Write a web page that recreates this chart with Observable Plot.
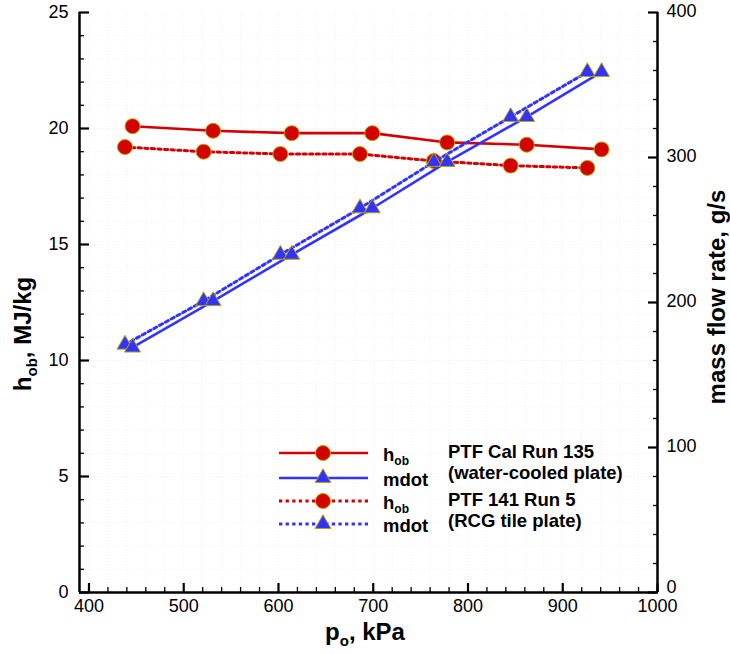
<!DOCTYPE html>
<html><head><meta charset="utf-8">
<script src="https://cdn.jsdelivr.net/npm/d3@7"></script>
<script src="https://cdn.jsdelivr.net/npm/@observablehq/plot@0.6"></script>
<style>body{margin:0;background:#fff}#chart svg{display:block}</style>
</head><body><div id="chart"></div>
<script>
// ---- data ----
const pressureCal = [446, 531, 614, 699, 778, 862, 941];      // kPa, PTF Cal Run 135
const enthalpyCal = [20.1, 19.9, 19.8, 19.8, 19.4, 19.3, 19.1]; // MJ/kg
const mdotCal     = [169, 201, 233, 265, 297, 328, 359];        // g/s
const pressureRcg = [438, 521, 602, 686, 764, 845, 926];      // kPa, PTF 141 Run 5
const enthalpyRcg = [19.2, 19.0, 18.9, 18.9, 18.6, 18.4, 18.3];
const mdotRcg     = [171, 201, 233, 265, 297, 328, 359];

const xMajorTicks = [400, 500, 600, 700, 800, 900, 1000];
const xMinorTicks = [420,440,460,480,520,540,560,580,620,640,660,680,720,740,760,780,820,840,860,880,920,940,960,980];
const hMajorTicks = [0, 5, 10, 15, 20, 25];
const hMinorTicks = [1,2,3,4,6,7,8,9,11,12,13,14,16,17,18,19,21,22,23,24];
const mMajorTicks = [0, 100, 200, 300, 400];
const mMinorTicks = [20,40,60,80,120,140,160,180,220,240,260,280,320,340,360,380];

const legendVars  = ["h", "mdot", "h", "mdot"];
const legendNotes = ["PTF Cal Run 135", "(water-cooled plate)", "PTF 141 Run 5", "(RCG tile plate)"];

// ---- helpers ----
const M_PER_H = 400 / 25;            // right axis 0–400 g/s over left axis 0–25 MJ/kg
const toH = m => m / M_PER_H;
const rowsCal = pressureCal.map((p, i) => ({p, h: enthalpyCal[i], m: mdotCal[i]}));
const rowsRcg = pressureRcg.map((p, i) => ({p, h: enthalpyRcg[i], m: mdotRcg[i]}));

const FONT = "'Liberation Sans', Arial, Helvetica, sans-serif";
const RED = "#d40000", BLUE = "#3333ff", EDGE = "#b3a600";
const DOT = "3.3,3.3";
const R_CIRC = 7.5, R_TRI = 5.9;
const mFmt = v => String(Math.round(v * M_PER_H));

const plot = Plot.plot({
  width: 730, height: 654,
  marginLeft: 79, marginRight: 73, marginTop: 12, marginBottom: 62,
  style: {fontFamily: FONT, fontSize: "18px", background: "white", color: "black"},
  x: {domain: [390, 1000]},
  y: {domain: [0, 25]},
  marks: [
    Plot.gridY(hMinorTicks.concat(hMajorTicks.slice(1, -1)), {stroke: "#000", strokeOpacity: 0.06, strokeDasharray: "1,2"}),
    Plot.gridX(xMinorTicks.concat(xMajorTicks.slice(0, -1)), {stroke: "#000", strokeOpacity: 0.06, strokeDasharray: "1,2"}),

    Plot.line(rowsCal, {x: "p", y: "h", stroke: RED, strokeWidth: 2.6}),
    Plot.line(rowsRcg, {x: "p", y: "h", stroke: RED, strokeWidth: 3, strokeDasharray: DOT}),
    Plot.dot(rowsCal, {x: "p", y: "h", r: R_CIRC, fill: RED, stroke: EDGE, strokeWidth: 1}),
    Plot.dot(rowsRcg, {x: "p", y: "h", r: R_CIRC, fill: RED, stroke: EDGE, strokeWidth: 1}),

    Plot.line(rowsCal, {x: "p", y: d => toH(d.m), stroke: BLUE, strokeWidth: 2.6}),
    Plot.line(rowsRcg, {x: "p", y: d => toH(d.m), stroke: BLUE, strokeWidth: 3, strokeDasharray: DOT}),
    Plot.dot(rowsRcg, {x: "p", y: d => toH(d.m), symbol: "triangle", r: R_TRI, fill: BLUE, stroke: EDGE, strokeWidth: 1}),
    Plot.dot(rowsCal, {x: "p", y: d => toH(d.m), symbol: "triangle", r: R_TRI, fill: BLUE, stroke: EDGE, strokeWidth: 1}),

    // axis lines (left, right, bottom)
    Plot.ruleX([390, 1000], {stroke: "black", strokeWidth: 2.5}),
    Plot.ruleY([0], {stroke: "black", strokeWidth: 2.5}),

    // inward ticks
    Plot.axisX(xMajorTicks, {anchor: "bottom", tickSize: -9, fill: "none", strokeWidth: 2.2}),
    Plot.axisX(xMinorTicks, {anchor: "bottom", tickSize: -5, fill: "none", strokeWidth: 1.3}),
    Plot.axisY(hMajorTicks, {anchor: "left", tickSize: -10, fill: "none", strokeWidth: 2.2}),
    Plot.axisY(hMinorTicks, {anchor: "left", tickSize: -5, fill: "none", strokeWidth: 1.3}),
    Plot.axisY(mMajorTicks.map(toH), {anchor: "right", tickSize: -10, fill: "none", strokeWidth: 2.2}),
    Plot.axisY(mMinorTicks.map(toH), {anchor: "right", tickSize: -5, fill: "none", strokeWidth: 1.3}),

    // tick labels
    Plot.axisX(xMajorTicks, {anchor: "bottom", tickSize: 0, tickPadding: 7, label: null, fontSize: 18,
      tickFormat: v => String(v)}),
    Plot.axisY(hMajorTicks, {anchor: "left", tickSize: 0, tickPadding: 11, label: null, fontSize: 18,
      tickFormat: v => String(v)}),
    Plot.axisY(mMajorTicks.filter(v => v > 0).map(toH), {anchor: "right", tickSize: 0, tickPadding: 9, dy: -1,
      label: null, fontSize: 18, tickFormat: mFmt}),
    Plot.axisY(mMajorTicks.filter(v => v === 0).map(toH), {anchor: "right", tickSize: 0, tickPadding: 9, dy: -5,
      label: null, fontSize: 18, tickFormat: mFmt})
  ]
});
document.getElementById("chart").appendChild(plot);

// ---- axis titles with subscripts ----
const svg = d3.select(plot);
function subText(parent, main, sub, rest, size, subSize, shift) {
  parent.append("tspan").text(main);
  parent.append("tspan").attr("dy", shift).attr("font-size", subSize).text(sub);
  if (rest) parent.append("tspan").attr("dy", -shift).attr("font-size", size).text(rest);
}
const titleStyle = sel => sel.attr("font-family", FONT).attr("font-weight", "bold").attr("font-size", 24).attr("fill", "black");

const tLeft = svg.append("text").attr("transform", "translate(31,334) rotate(-90)").attr("text-anchor", "middle").call(titleStyle);
subText(tLeft, "h", "ob", ", MJ/kg", 24, 15, 6);

const tBottom = svg.append("text").attr("x", 365).attr("y", 640).attr("text-anchor", "middle").call(titleStyle);
subText(tBottom, "p", "o", ", kPa", 24, 15, 6);

svg.append("text").attr("transform", "translate(725,297) rotate(-90)").attr("text-anchor", "middle").call(titleStyle)
  .text("mass flow rate, g/s");

// ---- legend ----
const LFS = 18.5;
const lg = svg.append("g").attr("font-family", FONT).attr("font-weight", "bold").attr("fill", "black")
  .attr("text-anchor", "start");
const legendRowY = [453, 478, 501, 524];
const legendStyle = [
  {color: RED, dash: null, sym: d3.symbolCircle, r: R_CIRC},
  {color: BLUE, dash: null, sym: d3.symbolTriangle, r: R_TRI},
  {color: RED, dash: DOT, sym: d3.symbolCircle, r: R_CIRC},
  {color: BLUE, dash: DOT, sym: d3.symbolTriangle, r: R_TRI}
];
legendStyle.forEach((s, i) => {
  const y = legendRowY[i];
  lg.append("line").attr("x1", 279).attr("x2", 368).attr("y1", y).attr("y2", y)
    .attr("stroke", s.color).attr("stroke-width", s.dash ? 3 : 2.6).attr("stroke-dasharray", s.dash);
  lg.append("path").attr("transform", `translate(323,${y})`)
    .attr("d", d3.symbol(s.sym, Math.PI * s.r * s.r)())
    .attr("fill", s.color).attr("stroke", EDGE).attr("stroke-width", 1);
  const t = lg.append("text").attr("x", 383).attr("y", y + 8).attr("font-size", LFS).attr("text-anchor", "start");
  if (legendVars[i] === "h") subText(t, "h", "ob", "", LFS, 12, 4);
  else t.text(legendVars[i]);
});
const noteY = [458, 479, 506, 527];
legendNotes.forEach((n, i) => {
  lg.append("text").attr("x", 448).attr("y", noteY[i]).attr("font-size", LFS).attr("text-anchor", "start").text(n);
});
</script>
</body></html>
